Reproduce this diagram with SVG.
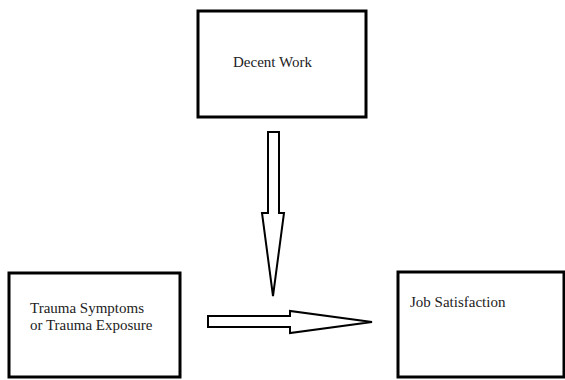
<svg xmlns="http://www.w3.org/2000/svg" width="565" height="380" viewBox="0 0 565 380">
<style>
.box{fill:#fff;stroke:#000;stroke-width:3}
.arrow{fill:#fff;stroke:#000;stroke-width:2;stroke-linejoin:miter}
text{font-family:"Liberation Serif","Times New Roman",serif;font-size:15px;fill:#222}
</style>
<rect width="565" height="380" fill="#fff"/>
<g id="decent-work">
<rect class="box" x="198" y="11" width="168" height="106"/>
<text x="233" y="67">Decent Work</text>
</g>
<g id="trauma">
<rect class="box" x="9" y="273" width="171" height="104"/>
<text x="30" y="313">Trauma Symptoms</text>
<text x="30" y="330">or Trauma Exposure</text>
</g>
<g id="job-satisfaction">
<rect class="box" x="398" y="272" width="166" height="105"/>
<text x="410" y="307">Job Satisfaction</text>
</g>
<g id="connectors">
<polygon class="arrow" points="268,132 279,132 279,213 284,213 273,296 262,213 268,213"/>
<polygon class="arrow" points="208,316 290,316 290,311 372,322 290,333 290,327 208,327"/>
</g>
</svg>
